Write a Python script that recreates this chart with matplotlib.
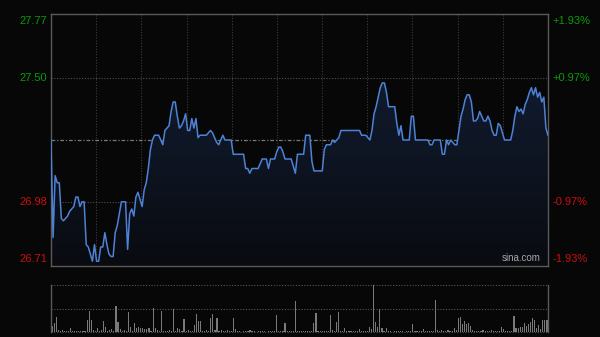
import numpy as np
import matplotlib
matplotlib.use("Agg")
import matplotlib.pyplot as plt
from matplotlib.colors import LinearSegmentedColormap

# ── DANE (1 punkt = 1 minuta) ──────────────────────────────────────────────
PREV_CLOSE = 27.24
Y_MIN, Y_MAX = 26.71, 27.77

price = [
    27.24, 26.83, 27.09, 27.06, 27.06, 26.91, 26.90, 26.91, 26.92, 26.94,
    26.95, 26.96, 27.00, 27.00, 26.96, 26.98, 26.98, 26.80, 26.79, 26.76,
    26.73, 26.80, 26.73, 26.73, 26.79, 26.79, 26.85, 26.80, 26.76, 26.75,
    26.75, 26.85, 26.88, 26.93, 26.98, 26.98, 26.98, 26.78, 26.93, 26.95,
    26.92, 27.00, 27.02, 26.99, 26.96, 27.03, 27.06, 27.12, 27.20, 27.24,
    27.26, 27.26, 27.26, 27.24, 27.22, 27.28, 27.29, 27.30, 27.36, 27.40,
    27.40, 27.34, 27.29, 27.30, 27.32, 27.35, 27.28, 27.28, 27.33, 27.29,
    27.33, 27.25, 27.26, 27.26, 27.26, 27.26, 27.27, 27.28, 27.27, 27.25,
    27.23, 27.22, 27.24, 27.26, 27.24, 27.24, 27.24, 27.24, 27.18, 27.18,
    27.18, 27.18, 27.18, 27.18, 27.12, 27.12, 27.10, 27.12, 27.12, 27.12,
    27.12, 27.14, 27.16, 27.16, 27.16, 27.12, 27.16, 27.16, 27.16, 27.19,
    27.21, 27.21, 27.19, 27.16, 27.16, 27.16, 27.16, 27.13, 27.10, 27.18,
    27.18, 27.18, 27.18, 27.26, 27.26, 27.26, 27.15, 27.11, 27.11, 27.11,
    27.11, 27.11, 27.20, 27.22, 27.22, 27.22, 27.24, 27.23, 27.24, 27.25,
    27.28, 27.28, 27.28, 27.28, 27.28, 27.28, 27.28, 27.28, 27.28, 27.28,
    27.26, 27.26, 27.26, 27.25, 27.24, 27.28, 27.35, 27.38, 27.42, 27.46,
    27.48, 27.48, 27.44, 27.38, 27.38, 27.38, 27.38, 27.31, 27.26, 27.30,
    27.24, 27.24, 27.24, 27.24, 27.34, 27.34, 27.24, 27.24, 27.24, 27.24,
    27.24, 27.24, 27.24, 27.22, 27.22, 27.24, 27.24, 27.24, 27.24, 27.18,
    27.18, 27.24, 27.22, 27.24, 27.23, 27.22, 27.22, 27.28, 27.34, 27.37,
    27.41, 27.43, 27.43, 27.40, 27.32, 27.32, 27.33, 27.36, 27.34, 27.32,
    27.32, 27.34, 27.32, 27.28, 27.26, 27.26, 27.31, 27.30, 27.27, 27.24,
    27.24, 27.24, 27.24, 27.28, 27.34, 27.38, 27.36, 27.37, 27.35, 27.39,
    27.41, 27.44, 27.46, 27.43, 27.46, 27.42, 27.44, 27.40, 27.42, 27.29,
    27.26,
]

volume = [
    12, 19, 31, 5, 2, 5, 2, 3, 2, 9,
    3, 2, 2, 2, 3, 2, 2, 25, 45, 25,
    5, 2, 9, 2, 5, 23, 11, 2, 4, 6,
    2, 55, 21, 7, 2, 4, 2, 43, 11, 2,
    19, 9, 11, 9, 9, 7, 7, 9, 3, 52,
    9, 4, 2, 45, 3, 2, 2, 5, 2, 50,
    2, 9, 6, 2, 27, 2, 4, 2, 2, 14,
    38, 24, 24, 2, 2, 5, 2, 30, 38, 5,
    29, 2, 4, 2, 2, 5, 2, 2, 29, 6,
    2, 2, 1, 2, 2, 2, 4, 2, 2, 1,
    2, 3, 2, 2, 1, 2, 2, 2, 2, 36,
    2, 2, 2, 19, 2, 2, 2, 2, 66, 2,
    2, 2, 2, 3, 2, 2, 2, 19, 41, 2,
    2, 3, 2, 2, 2, 36, 4, 2, 21, 43,
    2, 2, 9, 2, 2, 2, 2, 3, 2, 7,
    2, 2, 2, 2, 11, 7, 100, 21, 11, 48,
    9, 2, 9, 2, 2, 1, 2, 2, 3, 2,
    2, 1, 2, 2, 2, 16, 2, 2, 2, 2,
    7, 2, 2, 2, 2, 2, 68, 5, 2, 4,
    2, 2, 4, 2, 2, 9, 5, 29, 32, 18,
    23, 18, 19, 12, 4, 2, 2, 2, 2, 5,
    2, 2, 2, 4, 2, 2, 2, 2, 11, 7,
    2, 2, 2, 2, 34, 9, 9, 11, 11, 19,
    12, 16, 21, 29, 25, 9, 14, 6, 25, 26,
    26,
]

left_labels  = ["27.77", "27.50", "26.98", "26.71"]
left_values  = [27.77, 27.50, 26.98, 26.71]
right_labels = ["+1.93%", "+0.97%", "-0.97%", "-1.93%"]

# ── KOLORY ──────────────────────────────────────────────────────────────────
BG     = "#070707"
FRAME  = "#5a5a5a"
GRID   = "#3c3c3c"
LINE   = "#4d82d6"
GREEN  = "#0a9a0a"
RED    = "#c81010"
VOLC   = "#7a7a7a"

plt.rcParams["font.family"] = ["Liberation Sans", "DejaVu Sans"]

fig = plt.figure(figsize=(6.0, 3.37), dpi=100)
fig.patch.set_facecolor(BG)

ax = fig.add_axes([0.085, 0.2107, 0.8283, 0.7478])
av = fig.add_axes([0.085, 0.0148, 0.8283, 0.1395])

x = np.arange(len(price))
N = len(price) - 1

# ── WYKRES CENY ─────────────────────────────────────────────────────────────
ax.set_facecolor(BG)
ax.set_xlim(0, N)
ax.set_ylim(Y_MIN, Y_MAX)
ax.set_xticks([])
ax.set_yticks([])
for s in ax.spines.values():
    s.set_color(FRAME)
    s.set_linewidth(1.0)

for k in range(1, 11):
    ax.axvline(N * k / 11, color=GRID, lw=0.8, ls=(0, (1, 1.5)), zorder=1)
for v in [27.50, 26.98]:
    ax.axhline(v, color="#505050", lw=0.8, ls=(0, (1, 1.5)), zorder=1)
ax.axhline(PREV_CLOSE, color="#7a7a7a", lw=0.9, ls=(0, (3, 1.5, 1, 1.5)), zorder=1)

# gradient pod linia
poly = ax.fill_between(x, price, Y_MIN, color="none", lw=0)
cmap = LinearSegmentedColormap.from_list("g", ["#090b10", "#14213a"])
grad = np.linspace(0, 1, 256).reshape(-1, 1)
im = ax.imshow(grad, cmap=cmap, aspect="auto", origin="lower",
               extent=[0, N, Y_MIN, Y_MAX], zorder=2)
im.set_clip_path(poly.get_paths()[0], transform=ax.transData)

ax.plot(x, price, color=LINE, lw=1.1, zorder=3)

ax.text(0.985, 0.012, "sina.com", transform=ax.transAxes, ha="right", va="bottom",
        color="#a8a8a8", fontsize=7, zorder=4)

# etykiety osi
for lab, v, c, i in zip(left_labels, left_values, [GREEN, GREEN, RED, RED], range(4)):
    va = "top" if i == 0 else ("bottom" if i == 3 else "center")
    off = -1.5 if i == 0 else (1.5 if i == 3 else 0)
    ax.annotate(lab, xy=(0, v), xycoords=("axes fraction", "data"),
                xytext=(-3, off), textcoords="offset points",
                ha="right", va=va, color=c, fontsize=8)
for lab, v, c, i in zip(right_labels, left_values, [GREEN, GREEN, RED, RED], range(4)):
    va = "top" if i == 0 else ("bottom" if i == 3 else "center")
    off = -1.5 if i == 0 else (1.5 if i == 3 else 0)
    ax.annotate(lab, xy=(1, v), xycoords=("axes fraction", "data"),
                xytext=(3, off), textcoords="offset points",
                ha="left", va=va, color=c, fontsize=8)

# ── WOLUMEN ─────────────────────────────────────────────────────────────────
av.set_facecolor(BG)
av.set_xlim(-0.5, N + 0.5)
av.set_ylim(0, max(volume))
av.set_xticks([])
av.set_yticks([])
for side in ["top", "bottom"]:
    av.spines[side].set_visible(False)
for side in ["left", "right"]:
    av.spines[side].set_color(FRAME)
    av.spines[side].set_linewidth(1.0)
for v in [0, max(volume) / 2, max(volume)]:
    av.axhline(v, color="#555555", lw=0.8, ls=(0, (1, 1.5)), zorder=1, clip_on=False)

av.bar(x, volume, width=0.55, color=VOLC, lw=0, zorder=2)

fig.savefig("out.png", dpi=100, facecolor=BG)
